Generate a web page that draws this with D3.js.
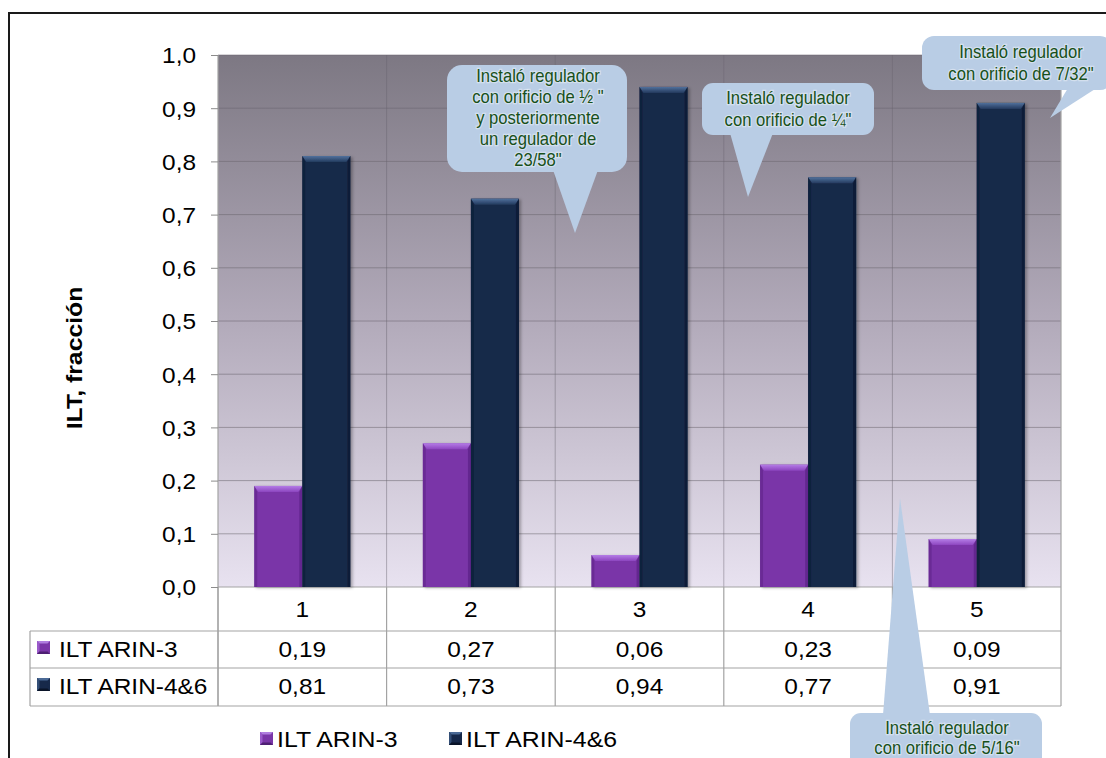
<!DOCTYPE html>
<html><head><meta charset="utf-8">
<script src="https://cdn.jsdelivr.net/npm/d3@7"></script>
<style>
html,body{margin:0;padding:0;background:#fff;}
svg{display:block;font-family:"Liberation Sans",Arial,sans-serif;}
</style></head>
<body>
<svg id="chart" width="1106" height="758"></svg>
<script>
// ---------- data ----------
const categories = ["1", "2", "3", "4", "5"];
const seriesNames = ["ILT ARIN-3", "ILT ARIN-4&6"];
const arin3 = [0.19, 0.27, 0.06, 0.23, 0.09];
const arin46 = [0.81, 0.73, 0.94, 0.77, 0.91];
const yTicks = [0, 0.1, 0.2, 0.3, 0.4, 0.5, 0.6, 0.7, 0.8, 0.9, 1.0];
const yTitle = "ILT, fracción";
const note1 = ["Instaló regulador", "con orificio de ½ \"", "y posteriormente", "un regulador de", "23/58\""];
const note2 = ["Instaló regulador", "con orificio de ¼\""];
const note3 = ["Instaló regulador", "con orificio de 7/32\""];
const note4 = ["Instaló regulador", "con orificio de 5/16\""];

const seriesValues = [arin3, arin46];
const colors = {
  "ILT ARIN-3": {main: "#7a36a8", top: "#a86ad8", edge: "#5f2689", light: "#b07ee0", dark: "#4e1f73"},
  "ILT ARIN-4&6": {main: "#17294a", top: "#42608a", edge: "#0e1b33", light: "#4b6a96", dark: "#0a1428"}
};

// ---------- layout ----------
const svg = d3.select("#chart");
const L = 218, R = 1061, T = 55, B = 587;
const tableLeft = 30, row1 = 631, row2 = 668, row3 = 706;
const FS = 22, SX = 1.11;

const x = d3.scaleBand().domain(categories).range([L, R]).padding(0);
const xIn = d3.scaleBand().domain(seriesNames)
  .range([x.bandwidth() * 0.215, x.bandwidth() * 0.785]).padding(0);
const y = d3.scaleLinear().domain([0, 1]).range([B, T]);

const defs = svg.append("defs");
const grad = defs.append("linearGradient").attr("id", "bg").attr("x1", 0).attr("y1", 0).attr("x2", 0).attr("y2", 1);
grad.append("stop").attr("offset", "0%").attr("stop-color", "#7d7883");
grad.append("stop").attr("offset", "50%").attr("stop-color", "#b2aaba");
grad.append("stop").attr("offset", "100%").attr("stop-color", "#e8e2f0");
const sh = defs.append("filter").attr("id", "shadow").attr("x", "-20%").attr("y", "-20%").attr("width", "150%").attr("height", "150%");
sh.append("feDropShadow").attr("dx", 2).attr("dy", 1).attr("stdDeviation", 1.5).attr("flood-color", "#000").attr("flood-opacity", 0.3);
const topGradP = defs.append("linearGradient").attr("id", "topP").attr("x1", 0).attr("y1", 0).attr("x2", 0).attr("y2", 1);
topGradP.append("stop").attr("offset", "0%").attr("stop-color", "#b47ce6");
topGradP.append("stop").attr("offset", "100%").attr("stop-color", "#8c45bf");
const topGradN = defs.append("linearGradient").attr("id", "topN").attr("x1", 0).attr("y1", 0).attr("x2", 0).attr("y2", 1);
topGradN.append("stop").attr("offset", "0%").attr("stop-color", "#51719c");
topGradN.append("stop").attr("offset", "100%").attr("stop-color", "#233a5e");
const topFill = {"ILT ARIN-3": "url(#topP)", "ILT ARIN-4&6": "url(#topN)"};

function stext(g, px, py, str, size, anchor, sx) {
  return g.append("text")
    .attr("transform", `translate(${px},${py}) scale(${sx},1)`)
    .attr("text-anchor", anchor)
    .attr("font-size", size)
    .attr("fill", "#000")
    .text(str);
}

// frame
svg.append("path").attr("d", "M1110,13 H9 V770").attr("fill", "none").attr("stroke", "#1a1a1a").attr("stroke-width", 2);

// plot background
svg.append("rect").attr("x", L).attr("y", T).attr("width", R - L).attr("height", B - T).attr("fill", "url(#bg)");

// gridlines
svg.append("g").selectAll("line").data(yTicks.filter(d => d > 0)).join("line")
  .attr("x1", L).attr("x2", R).attr("y1", d => y(d)).attr("y2", d => y(d))
  .attr("stroke", "rgba(105,100,110,0.53)").attr("stroke-width", 1);
svg.append("g").selectAll("line").data(categories.slice(1)).join("line")
  .attr("x1", d => x(d)).attr("x2", d => x(d)).attr("y1", T).attr("y2", B)
  .attr("stroke", "rgba(105,100,110,0.45)").attr("stroke-width", 1);

// table lines
const tl = svg.append("g").attr("stroke", "#a3a3a3").attr("stroke-width", 1.2);
[B, row1, row2, row3].forEach((yy, i) => {
  tl.append("line").attr("x1", i === 0 ? L : tableLeft).attr("x2", R).attr("y1", yy).attr("y2", yy);
});
tl.append("line").attr("x1", tableLeft).attr("x2", tableLeft).attr("y1", row1).attr("y2", row3);
categories.forEach(c => {
  tl.append("line").attr("x1", x(c)).attr("x2", x(c)).attr("y1", B).attr("y2", row3);
});
tl.append("line").attr("x1", L).attr("x2", L).attr("y1", T).attr("y2", row3);
tl.append("line").attr("x1", R).attr("x2", R).attr("y1", T).attr("y2", row3);

// y axis
const yAxis = svg.append("g").attr("transform", `translate(${L},0)`)
  .call(d3.axisLeft(y).tickValues(yTicks).tickSize(7).tickSizeOuter(0)
    .tickFormat(d => d3.format(".1f")(d).replace(".", ",")));
yAxis.select(".domain").remove();
yAxis.selectAll(".tick line").attr("stroke", "#8c8c8c");
yAxis.selectAll(".tick text")
  .attr("font-family", "'Liberation Sans',Arial,sans-serif")
  .attr("font-size", FS).attr("fill", "#000")
  .attr("x", -22 / SX).attr("dy", "0.36em")
  .attr("transform", `scale(${SX},1)`);

// y title
svg.append("text")
  .attr("transform", `translate(82,358) rotate(-90) scale(1.1,1)`)
  .attr("text-anchor", "middle").attr("font-size", 22.5).attr("font-weight", "bold")
  .text(yTitle);

// bars
const barData = [];
seriesNames.forEach((s, si) => {
  categories.forEach((c, ci) => barData.push({s, c, v: seriesValues[si][ci]}));
});
const bars = svg.append("g").selectAll("g").data(barData).join("g").attr("filter", "url(#shadow)");
bars.each(function(d) {
  const g = d3.select(this);
  const bx = x(d.c) + xIn(d.s), bw = xIn.bandwidth(), by = y(d.v), bh = B - y(d.v);
  const col = colors[d.s];
  g.append("rect").attr("x", bx).attr("y", by).attr("width", bw).attr("height", bh).attr("fill", col.main);
  const bev = Math.min(6, bh / 2);
  g.append("path").attr("d", `M${bx},${by} H${bx + bw} L${bx + bw - 4},${by + bev} H${bx + 4} Z`).attr("fill", topFill[d.s]);
  g.append("path").attr("d", `M${bx},${by} L${bx + 3},${by + bev} V${by + bh} H${bx} Z`).attr("fill", col.edge).attr("opacity", 0.6);
  g.append("path").attr("d", `M${bx + bw},${by} L${bx + bw - 3},${by + bev} V${by + bh} H${bx + bw} Z`).attr("fill", col.edge).attr("opacity", 0.8);
});

// bevel marker
function marker(g, mx, my, s, col) {
  const m = g.append("g");
  m.append("rect").attr("x", mx).attr("y", my).attr("width", s).attr("height", s).attr("fill", col.main);
  const c = [mx + s / 2, my + s / 2];
  m.append("path").attr("d", `M${mx},${my} H${mx + s} L${c[0]},${c[1]} Z`).attr("fill", col.light);
  m.append("path").attr("d", `M${mx},${my} V${my + s} L${c[0]},${c[1]} Z`).attr("fill", col.top).attr("opacity", 0.7);
  m.append("path").attr("d", `M${mx},${my + s} H${mx + s} L${c[0]},${c[1]} Z`).attr("fill", col.dark);
  m.append("rect").attr("x", mx + 2.5).attr("y", my + 2.5).attr("width", s - 5).attr("height", s - 5).attr("fill", col.main);
}

// table content
const tg = svg.append("g");
categories.forEach(c => stext(tg, x(c) + x.bandwidth() / 2, 617, c, FS, "middle", SX));
const rowBase = [657, 694];
seriesNames.forEach((s, si) => {
  marker(tg, 37, rowBase[si] - 16, 13, colors[s]);
  stext(tg, 59, rowBase[si], s, FS, "start", SX);
  categories.forEach((c, ci) => {
    stext(tg, x(c) + x.bandwidth() / 2, rowBase[si], d3.format(".2f")(seriesValues[si][ci]).replace(".", ","), FS, "middle", SX);
  });
});

// legend
const lg = svg.append("g");
const legX = [260, 449];
seriesNames.forEach((s, si) => {
  marker(lg, legX[si], 732, 13, colors[s]);
  stext(lg, legX[si] + 17, 747, s, FS, "start", 1.13);
});

// callouts
const callFill = "#b9cde5";
function callout(box, tail, lines, cx, firstBase, lh) {
  const g = svg.append("g");
  g.append("rect").attr("x", box[0]).attr("y", box[1]).attr("width", box[2] - box[0]).attr("height", box[3] - box[1])
    .attr("rx", box[4]).attr("fill", callFill);
  g.append("path").attr("d", "M" + tail.map(p => p.join(",")).join(" L") + " Z").attr("fill", callFill);
  lines.forEach((t, i) => {
    g.append("text").attr("transform", `translate(${cx},${firstBase + i * lh}) scale(0.95,1)`)
      .attr("text-anchor", "middle").attr("font-size", 17.5)
      .attr("fill", "#17501a")
      .attr("stroke", "rgba(255,255,255,0.4)").attr("stroke-width", 2.5).attr("paint-order", "stroke")
      .text(t);
  });
}
callout([447, 65, 627, 172, 15], [[553, 170], [598, 170], [575, 233]], note1, 538, 82, 21);
callout([702, 83, 874, 135, 11], [[730, 133], [773, 133], [748, 197]], note2, 788, 104, 22);
callout([922, 36, 1112, 90, 12], [[1068, 88], [1106, 82], [1050, 118]], note3, 1021, 58, 22);
callout([850, 713, 1042, 790, 11], [[883, 715], [930, 715], [900, 498]], note4, 947, 734, 20);
</script>
</body></html>
